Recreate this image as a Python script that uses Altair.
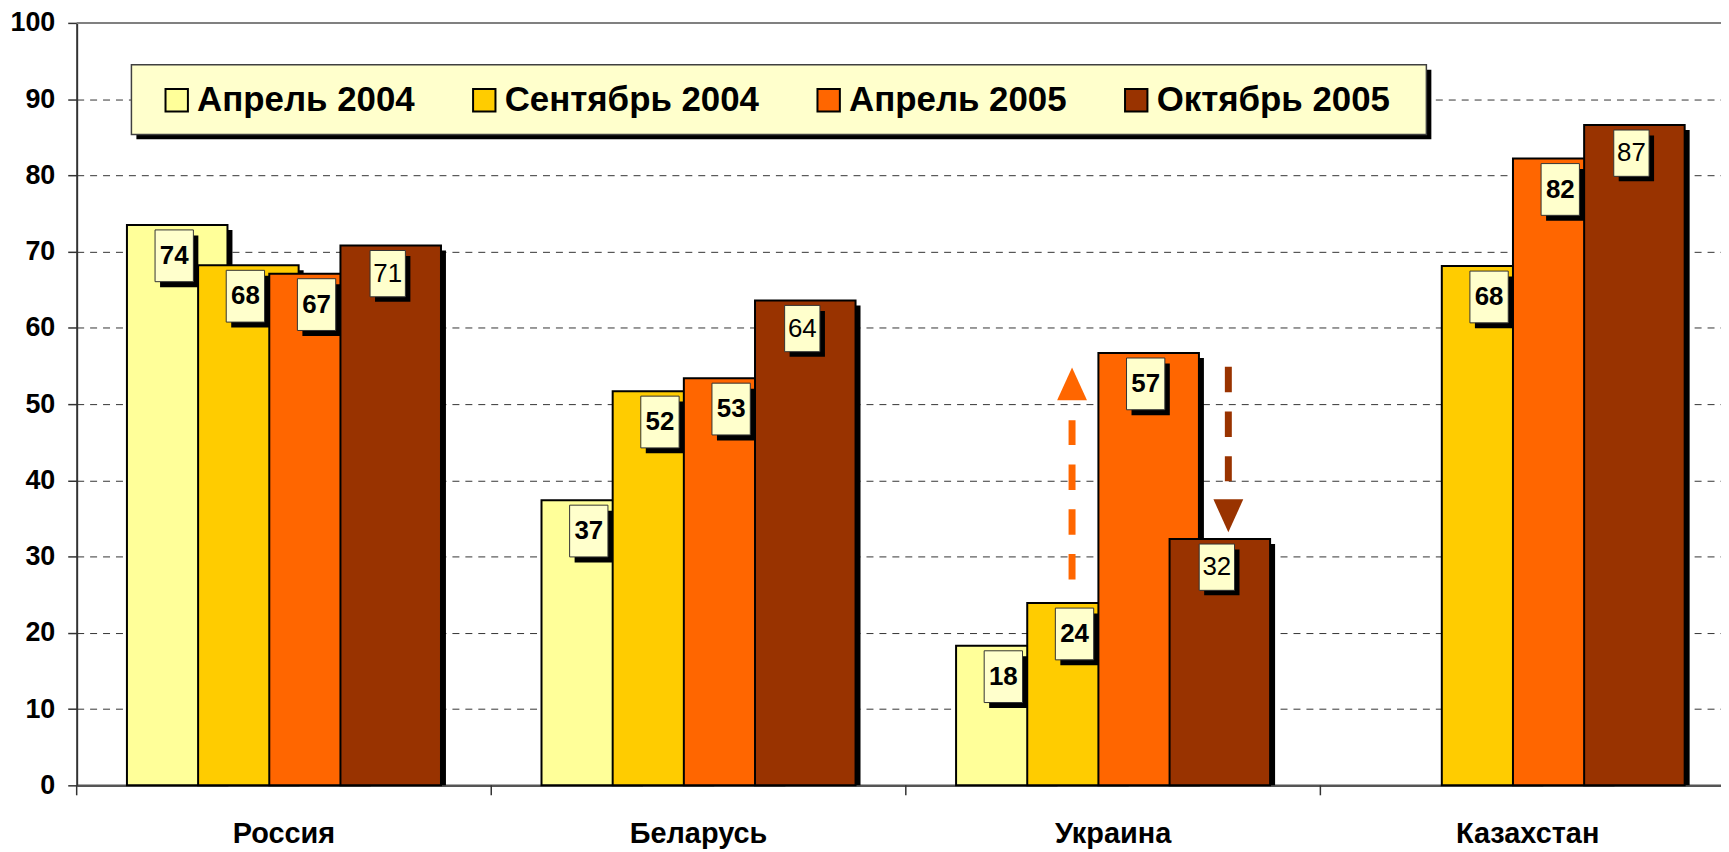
import altair as alt
import pandas as pd

# ---------------- data ----------------
countries = ["Россия", "Беларусь", "Украина", "Казахстан"]
series = ["Апрель 2004", "Сентябрь 2004", "Апрель 2005", "Октябрь 2005"]
colors = ["#FFFF99", "#FFCC00", "#FF6600", "#993300"]

apr_2004 = [73.5, 37.4, 18.3, None]
sep_2004 = [68.2, 51.7, 23.9, 68.1]
apr_2005 = [67.1, 53.4, 56.7, 82.2]
oct_2005 = [70.8, 63.6, 32.3, 86.6]

lab_apr_2004 = [74, 37, 18, None]
lab_sep_2004 = [68, 52, 24, 68]
lab_apr_2005 = [67, 53, 57, 82]
lab_oct_2005 = [71, 64, 32, 87]

# annotation arrows (Украина)
up_shaft = [27.0, 47.9]
up_tip = [54.8]
down_shaft = [54.9, 39.9]
down_tip = [33.2]

y_ticks = list(range(0, 101, 10))

# ---------------- layout / style ----------------
FONT = "Liberation Sans"
W, H = 1652, 766
X_SPAN = 1666          # the last category runs past the right edge of the page
BAR_W = 101
STEP = 71.5
SHIFTS = [(j - 1.5) * STEP for j in range(4)]

rows = []
for s, vals, labs in zip(series, [apr_2004, sep_2004, apr_2005, oct_2005],
                         [lab_apr_2004, lab_sep_2004, lab_apr_2005, lab_oct_2005]):
    for c, v, l in zip(countries, vals, labs):
        if v is None:
            continue
        rows.append({"country": c, "series": s, "value": v, "label": str(l)})
df = pd.DataFrame(rows)

xscale = alt.Scale(domain=countries, paddingInner=0, paddingOuter=0, range=[0, X_SPAN])
yscale = alt.Scale(domain=[0, 100], nice=False, zero=True)

x_axis = alt.Axis(labelAngle=0, ticks=False, tickSize=0, grid=False,
                  labelFont=FONT, labelFontSize=29, labelFontWeight="bold",
                  labelColor="black", labelPadding=34,
                  domainColor="#555555", domainWidth=2.5)
y_axis = alt.Axis(values=y_ticks, grid=True, gridDash=[7, 6], gridColor="#333333",
                  gridWidth=1, tickSize=9, tickColor="#333333", tickWidth=1.5,
                  labelFont=FONT, labelFontSize=27, labelFontWeight="bold",
                  labelColor="black", labelPadding=13,
                  domainColor="#333333", domainWidth=2)
legend = alt.Legend(title=None, orient="none", legendX=83, legendY=60,
                    direction="horizontal", columns=4,
                    symbolType="square", symbolSize=506,
                    symbolStrokeColor="black", symbolStrokeWidth=2,
                    symbolOpacity=1,
                    labelFont=FONT, labelFontSize=35, labelFontWeight="bold",
                    labelColor="black", labelOffset=3, columnPadding=52,
                    labelLimit=600, padding=0)


def xenc(**kw):
    return alt.X("country:N", scale=xscale, axis=x_axis, title=None, **kw)


def yenc(field="value:Q"):
    return alt.Y(field, scale=yscale, stack=None, title=None, axis=y_axis)


base = alt.Chart(df)
one = alt.Data(values=[{}])

top_line = alt.Chart(one).mark_rule(color="#808080", strokeWidth=2).encode(
    x=alt.value(0), x2=alt.value(W), y=alt.Y(datum=100, scale=yscale, title=None, axis=y_axis)
)

legend_shadow = alt.Chart(one).mark_rect(fill="black", opacity=1).encode(
    x=alt.value(60), x2=alt.value(1361), y=alt.value(47), y2=alt.value(117)
)
legend_box = alt.Chart(one).mark_rect(fill="#FFFFCC", stroke="#404040", strokeWidth=1.5, opacity=1).encode(
    x=alt.value(55), x2=alt.value(1356), y=alt.value(42), y2=alt.value(112)
)

cat_ticks = alt.Chart(pd.DataFrame({"country": countries})).mark_rule(
    color="#333333", strokeWidth=1.5).encode(
    x=xenc(bandPosition=0), y=alt.value(H), y2=alt.value(H + 10),
)

shadow_layers, bar_layers = [], []
box_sh_layers, box_layers, txt_layers = [], [], []

BOX_SIZE = 2704  # unit = 26 px
bold_box = "M -0.856 0.192 L 0.625 0.192 L 0.625 2.192 L -0.856 2.192 Z"
bold_shadow = "M -0.663 0.404 L 0.817 0.404 L 0.817 2.404 L -0.663 2.404 Z"
reg_box = "M -0.798 0.192 L 0.567 0.192 L 0.567 1.981 L -0.798 1.981 Z"
reg_shadow = "M -0.606 0.404 L 0.760 0.404 L 0.760 2.173 L -0.606 2.173 Z"

for j, s in enumerate(series):
    sub = base.transform_filter(alt.datum.series == s)
    off = SHIFTS[j]
    bold = j < 3
    shadow_layers.append(sub.mark_bar(color="black", opacity=1, width=BAR_W,
                                      xOffset=off + 5, yOffset=5).encode(
        x=xenc(), y=yenc()))
    bar_layers.append(sub.mark_bar(stroke="black", strokeWidth=2, opacity=1,
                                   width=BAR_W, xOffset=off).encode(
        x=xenc(), y=yenc(),
        color=alt.Color("series:N", scale=alt.Scale(domain=series, range=colors),
                        legend=legend)))
    box_sh_layers.append(sub.mark_point(
        shape=bold_shadow if bold else reg_shadow, size=BOX_SIZE, filled=True,
        fill="black", strokeWidth=0, opacity=1, xOffset=off).encode(x=xenc(), y=yenc()))
    box_layers.append(sub.mark_point(
        shape=bold_box if bold else reg_box, size=BOX_SIZE, filled=True,
        fill="#FFFFCC", stroke="#333333", strokeWidth=1, opacity=1,
        xOffset=off).encode(x=xenc(), y=yenc()))
    txt_layers.append(sub.mark_text(
        font=FONT, fontSize=26, fontWeight="bold" if bold else "normal",
        color="black", xOffset=off, dx=-3, dy=31.3 if bold else 28.3,
        baseline="middle", align="center").encode(
        x=xenc(), y=yenc(), text="label:N"))

up_df = pd.DataFrame({"country": ["Украина"], "y0": [up_shaft[0]], "y1": [up_shaft[1]], "tip": up_tip})
down_df = pd.DataFrame({"country": ["Украина"], "y0": [down_shaft[0]], "y1": [down_shaft[1]], "tip": down_tip})

up_arrow = alt.Chart(up_df).mark_rule(color="#FF6600", strokeWidth=7, strokeDash=[25.5, 19.5]).encode(
    x=xenc(bandPosition=0.401), y=yenc("y0:Q"), y2="y1:Q")
up_head = alt.Chart(up_df).mark_point(shape="M 0 0 L 0.909 2 L -0.909 2 Z", size=1089,
                                      filled=True, color="#FF6600", opacity=1, strokeWidth=0).encode(
    x=xenc(bandPosition=0.401), y=yenc("tip:Q"))
down_arrow = alt.Chart(down_df).mark_rule(color="#993300", strokeWidth=7, strokeDash=[25.5, 19.5]).encode(
    x=xenc(bandPosition=0.778), y=yenc("y0:Q"), y2="y1:Q")
down_head = alt.Chart(down_df).mark_point(shape="M 0 0 L 0.909 -2 L -0.909 -2 Z", size=1089,
                                          filled=True, color="#993300", opacity=1, strokeWidth=0).encode(
    x=xenc(bandPosition=0.778), y=yenc("tip:Q"))

chart = alt.layer(
    top_line, legend_shadow, legend_box, cat_ticks,
    *shadow_layers, *bar_layers, *box_sh_layers, *box_layers, *txt_layers,
    up_arrow, up_head, down_arrow, down_head,
).properties(
    width=W, height=H,
    padding={"left": 69, "top": 13, "right": 0, "bottom": 65},
    autosize=alt.AutoSizeParams(type="none"),
    background="white",
).configure_view(stroke=None)

chart.save("out.html", embed_options={"renderer": "svg", "actions": False})
